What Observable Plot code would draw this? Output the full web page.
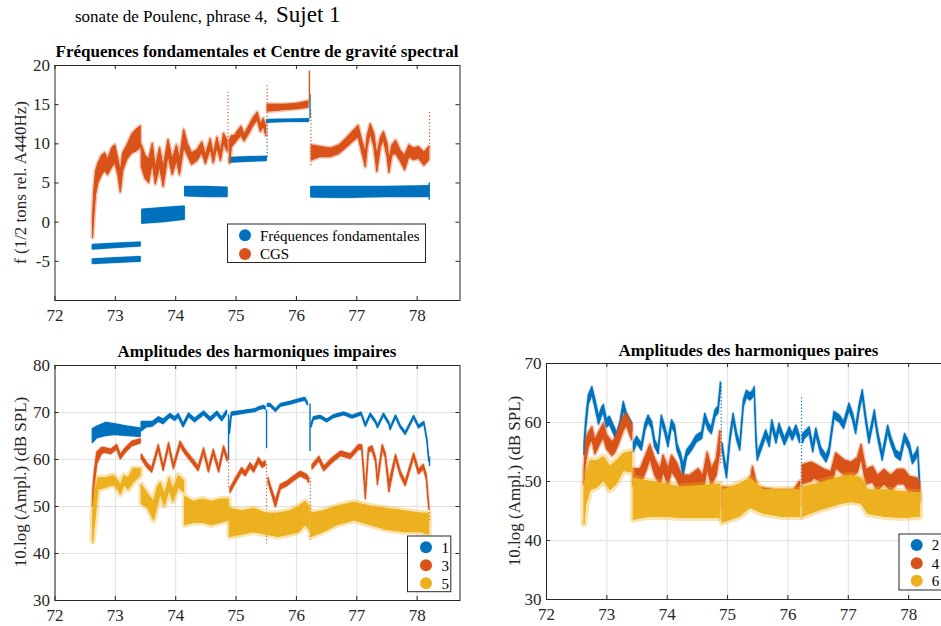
<!DOCTYPE html>
<html>
<head>
<meta charset="utf-8">
<script src="https://cdn.jsdelivr.net/npm/d3@7"></script>
<script src="https://cdn.jsdelivr.net/npm/@observablehq/plot@0.6"></script>
<style>
html,body{margin:0;padding:0;background:#fff;overflow:hidden}
#fig{position:relative;width:941px;height:626px;overflow:hidden;background:#fff}
#fig svg{position:absolute}
</style>
</head>
<body>
<div id="fig"></div>
<script>
// ---------------- data ----------------
const xTicks = [72, 73, 74, 75, 76, 77, 78];
const yTicksF = [-10, -5, 0, 5, 10, 15, 20];
const yLabelsF = [-5, 0, 5, 10, 15, 20];
const yTicksImp = [30, 40, 50, 60, 70, 80];
const yTicksPair = [30, 40, 50, 60, 70];

// Plot 1 : fundamental frequency (rows: x, low, high ; null = gap)
const f0Band = [
  [72.63,-5.35,-4.75],[73.0,-5.2,-4.6],[73.42,-5.05,-4.45], null,
  [72.63,-3.5,-2.9],[73.0,-3.3,-2.75],[73.42,-3.1,-2.6], null,
  [73.45,-0.2,1.6],[73.8,0.0,1.8],[74.15,0.3,2.0], null,
  [74.16,3.3,4.5],[74.5,3.2,4.5],[74.86,3.2,4.4], null,
  [74.9,7.6,8.2],[75.2,7.7,8.3],[75.51,7.8,8.35], null,
  [75.52,12.7,13.05],[75.9,12.8,13.1],[76.21,12.8,13.15], null,
  [76.25,3.15,4.5],[76.8,3.1,4.5],[77.5,3.2,4.5],[78.2,3.2,4.6]
];
// Plot 1 : spectral centroid (CGS)
const cgsBand = [
  [72.63,-2.0,0.5],[72.65,0.5,4.0],[72.68,3.5,6.5],[72.72,5.0,7.5],[72.78,6.0,8.5],[72.83,6.5,8.8],
  [72.88,6.0,8.0],[72.95,7.0,9.5],[73.0,7.5,9.8],[73.05,6.0,8.0],[73.09,3.8,6.5],[73.13,6.5,8.8],
  [73.2,8.0,9.8],[73.28,8.8,11.2],[73.35,9.0,11.8],[73.42,9.5,12.2], null,
  [73.44,7.0,9.8],[73.5,5.5,8.5],[73.56,5.0,8.0],[73.62,7.5,10.0],[73.67,4.8,7.0],[73.74,7.0,9.5],
  [73.8,4.5,7.0],[73.88,8.5,10.5],[73.95,6.0,8.0],[74.02,7.8,9.8],[74.07,6.0,8.0],[74.14,9.5,11.8],
  [74.2,8.5,10.0],[74.27,7.3,8.8],[74.36,7.8,9.2],[74.44,8.8,10.2],[74.5,7.4,8.6],[74.58,9.3,10.6],
  [74.63,7.5,8.6],[74.69,9.5,10.8],[74.75,7.8,9.0],[74.8,10.0,11.3],[74.86,9.0,10.4], null,
  [74.9,7.5,10.5],[74.93,9.5,11.0],[74.98,10.0,11.0],[75.03,10.5,11.6],[75.09,11.0,12.2],[75.14,10.3,11.2],
  [75.22,11.3,12.3],[75.29,12.3,13.3],[75.36,13.0,14.0],[75.41,11.5,12.5],[75.46,12.2,13.2],[75.5,11.0,12.2], null,
  [75.53,14.1,15.0],[75.8,14.3,15.0],[76.0,14.4,15.1],[76.2,14.6,15.4], null,
  [76.26,7.9,9.8],[76.4,8.3,9.6],[76.57,8.3,9.4],[76.71,8.7,9.8],[76.82,9.4,10.6],[76.93,10.2,11.5],
  [77.03,10.8,12.3],[77.09,8.9,10.4],[77.15,7.0,8.8],[77.18,9.5,11.0],[77.23,11.3,12.5],[77.29,9.6,11.3],
  [77.34,6.4,8.5],[77.4,9.6,10.8],[77.45,10.4,11.5],[77.51,8.3,10.0],[77.54,6.3,7.9],[77.59,8.5,9.8],
  [77.65,8.7,10.4],[77.73,7.7,9.1],[77.8,6.6,8.5],[77.87,8.3,9.8],[77.95,7.9,9.4],[78.03,8.1,9.6],
  [78.12,7.2,8.9],[78.2,7.9,9.6]
];
// vertical runs of points: [series, x, from, to]
const p1Solid = [["f0",76.225,13.2,16.3],["cgs",76.215,15.3,19.3],["f0",78.2,2.8,5.0]];
const p1Dotted = [["f0",75.515,8.3,12.8],["cgs",74.865,10.8,16.8],["cgs",75.515,12.5,17.4],["cgs",76.24,7.2,14.5],["cgs",78.205,9.5,14.0]];

// Plot 2 : odd harmonics (dB)
const h1Band = [
  [72.63,63.5,66.5],[72.7,64.5,67.0],[72.85,65.0,67.8],[73.0,65.2,67.5],[73.2,65.0,67.0],[73.42,64.8,66.6], null,
  [73.44,66.0,68.0],[73.52,66.8,68.0],[73.62,67.0,68.0],[73.72,68.0,69.0],[73.8,67.5,68.5],[73.91,68.9,69.7],
  [73.99,68.2,69.0],[74.05,68.9,69.7],[74.13,66.8,67.6],[74.22,69.0,69.8],[74.32,67.9,68.7],[74.47,69.4,70.2],
  [74.58,68.1,68.9],[74.69,69.4,70.2],[74.77,68.1,68.9],[74.85,69.6,70.4], null,
  [74.9,65.5,67.5],[74.93,69.3,70.0],[75.16,69.8,70.4],[75.32,70.1,70.7],[75.38,70.5,71.1],[75.46,70.8,71.4],[75.49,70.6,71.2], null,
  [75.53,71.2,71.8],[75.57,71.2,71.8],[75.66,70.1,70.7],[75.74,71.2,71.8],[75.91,71.7,72.3],[76.07,72.3,72.9],
  [76.15,72.5,73.1],[76.19,71.5,72.1], null,
  [76.25,66.8,67.6],[76.29,68.4,69.0],[76.4,68.7,69.3],[76.51,67.9,68.5],[76.62,68.8,69.4],[76.79,69.4,70.0],
  [76.93,68.7,69.3],[77.08,69.4,70.0],[77.15,66.9,67.5],[77.23,69.2,69.8],[77.32,67.6,68.2],[77.35,66.6,67.2],
  [77.45,69.2,69.8],[77.54,67.3,67.9],[77.56,66.2,66.8],[77.65,68.8,69.4],[77.73,66.6,67.2],[77.81,65.2,65.8],
  [77.95,68.7,69.3],[78.03,66.6,67.2],[78.12,67.4,68.0],[78.17,63.7,64.3],[78.2,59.5,60.1]
];
const h3Band = [
  [72.63,50.0,53.0],[72.66,54.5,57.5],[72.7,59.0,61.5],[72.78,61.2,62.5],[72.84,61.4,62.4],[72.93,61.1,62.1],
  [73.03,62.1,63.1],[73.09,60.0,61.0],[73.17,61.4,62.4],[73.28,62.8,63.8],[73.42,63.4,64.3], null,
  [73.44,60.0,61.0],[73.53,58.2,59.2],[73.61,57.2,58.2],[73.72,62.1,63.1],[73.8,57.5,58.5],[73.89,62.5,63.5],
  [73.97,57.9,58.9],[74.08,62.8,63.8],[74.16,61.1,62.1],[74.27,59.3,60.3],[74.38,57.5,58.5],[74.47,61.4,62.4],
  [74.55,57.2,58.2],[74.63,61.1,62.1],[74.72,57.2,58.2],[74.8,61.8,62.8],[74.86,59.6,60.6], null,
  [74.91,52.9,53.9],[75.0,55.0,56.0],[75.1,57.2,58.2],[75.16,56.4,57.4],[75.24,58.2,59.2],[75.3,57.2,58.2],
  [75.38,59.3,60.3],[75.44,58.2,59.2],[75.49,58.6,59.6], null,
  [75.54,55.0,56.0],[75.57,53.6,54.6],[75.66,49.8,51.2],[75.74,53.6,54.6],[75.85,54.3,55.3],[75.96,55.4,56.4],
  [76.07,56.4,57.4],[76.18,55.7,56.7],[76.21,55.0,56.0], null,
  [76.27,57.9,58.9],[76.38,59.6,60.6],[76.46,57.5,58.5],[76.6,59.3,60.3],[76.74,60.7,61.7],[76.9,60.1,61.1],
  [77.04,62.1,63.1],[77.09,62.0,63.0],[77.15,51.5,53.5],[77.2,61.4,62.4],[77.26,61.8,62.8],[77.32,59.3,60.3],
  [77.35,54.5,56.0],[77.43,62.1,63.1],[77.48,60.3,61.3],[77.54,53.0,55.0],[77.65,60.0,61.0],[77.73,56.4,57.4],
  [77.81,54.3,55.3],[77.95,60.3,61.3],[78.03,56.8,57.8],[78.11,57.9,58.9],[78.16,55.7,56.7],[78.2,49.4,50.4]
];
const h5Band = [
  [72.63,42.5,48.5],[72.67,47.0,53.0],[72.72,53.5,56.0],[72.85,54.0,56.0],[72.97,54.5,56.5],[73.05,53.5,55.5],
  [73.09,52.5,54.5],[73.15,54.5,56.5],[73.22,53.5,56.0],[73.3,55.0,58.0],[73.42,56.5,58.0], null,
  [73.44,50.5,54.5],[73.55,49.5,52.5],[73.64,47.0,51.0],[73.7,50.0,54.0],[73.75,52.5,55.0],[73.82,50.0,52.5],
  [73.9,53.5,56.0],[73.96,51.0,53.5],[74.05,54.0,56.5],[74.14,53.0,55.5], null,
  [74.16,46.0,52.0],[74.3,46.5,51.0],[74.45,46.5,51.5],[74.6,46.0,51.0],[74.75,46.5,51.5],[74.88,47.0,51.5], null,
  [74.9,43.5,49.5],[75.1,44.0,49.0],[75.3,44.5,49.5],[75.5,44.0,48.5],[75.7,43.5,48.5],[75.9,44.0,49.0],
  [76.05,44.5,50.0],[76.15,46.0,51.0],[76.22,45.0,50.0], null,
  [76.25,43.5,48.5],[76.45,44.5,49.0],[76.68,46.0,50.0],[76.96,47.0,50.8],[77.23,46.0,50.0],[77.5,45.0,49.5],
  [77.8,44.5,49.0],[78.05,44.5,48.5],[78.2,44.0,48.5]
];
const p2Solid = [["h1",74.875,60,69.5],["h1",75.505,62.3,70.5],["h1",76.225,61.7,71.8],["h1",78.205,58.5,60.5]];
const p2Dotted = [["h3",74.875,54,63],["h3",75.505,42,59],["h3",76.23,42.8,56],["h3",78.205,47,50],["h5",72.635,42,44]];

// Plot 3 : even harmonics (dB)
const h2Band = [
  [72.63,54.5,56.5],[72.66,59.0,60.8],[72.7,63.0,64.6],[72.76,64.6,66.0],[72.81,62.5,63.9],[72.87,59.6,61.0],
  [72.92,61.1,62.5],[72.95,61.6,63.0],[73.0,59.1,60.5],[73.05,59.6,61.0],[73.11,58.2,59.6],[73.17,56.8,58.2],
  [73.22,58.5,59.9],[73.28,62.0,63.5],[73.33,60.2,61.6],[73.42,58.5,59.9], null,
  [73.45,55.0,56.6],[73.5,56.4,57.6],[73.58,55.2,56.4],[73.64,58.6,59.8],[73.69,60.0,61.2],[73.75,58.9,60.1],
  [73.8,55.8,57.0],[73.86,54.6,55.8],[73.91,60.0,61.2],[73.97,58.0,59.2],[74.02,55.8,57.0],[74.08,59.2,60.4],
  [74.13,58.3,59.5],[74.17,55.2,56.4],[74.23,53.5,54.7],[74.27,50.8,52.8],[74.33,54.1,55.3],[74.41,55.2,56.4],
  [74.49,56.6,57.8],[74.58,57.2,58.4],[74.63,60.3,61.5],[74.69,58.6,59.8],[74.74,58.0,59.2],[74.8,60.9,62.1],
  [74.85,61.5,62.7],[74.89,65.5,66.8], null,
  [74.92,55.2,56.4],[74.95,52.9,54.1],[74.99,50.5,52.0],[75.05,56.9,58.1],[75.1,60.3,61.5],[75.16,56.9,58.1],
  [75.21,55.2,56.4],[75.27,62.6,63.8],[75.32,64.2,65.4],[75.38,63.7,64.9],[75.43,64.3,65.5],[75.45,64.9,66.0],
  [75.48,56.0,58.0],[75.5,53.5,54.7],[75.56,55.2,56.4],[75.64,57.5,58.7],[75.7,55.8,57.0],[75.74,59.2,60.4],
  [75.81,56.4,57.6],[75.86,58.6,59.8],[75.95,56.1,57.3],[76.03,58.0,59.2],[76.08,56.9,58.1],[76.14,58.3,59.5],
  [76.2,56.5,57.7], null,
  [76.25,56.5,58.0],[76.28,57.2,58.4],[76.36,58.0,59.2],[76.42,54.9,56.1],[76.47,57.8,59.0],[76.55,54.6,55.8],
  [76.64,53.2,54.4],[76.69,54.6,55.8],[76.77,60.6,61.8],[76.86,60.0,61.2],[76.93,58.9,60.1],[77.02,62.0,63.2],
  [77.08,60.3,61.5],[77.13,58.0,59.2],[77.19,62.0,63.2],[77.24,64.3,65.5],[77.3,59.7,60.9],[77.35,56.4,57.6],
  [77.44,60.9,62.1],[77.49,57.5,58.7],[77.57,53.5,54.7],[77.66,58.3,59.5],[77.71,56.4,57.6],[77.79,54.1,55.3],
  [77.87,53.5,54.7],[77.94,56.9,58.1],[78.02,55.2,56.4],[78.07,52.9,54.1],[78.13,53.8,55.0],[78.16,54.6,55.8],
  [78.19,48.5,50.0]
];
const h4Band = [
  [72.63,49.5,52.0],[72.66,53.5,57.0],[72.7,55.8,58.2],[72.76,57.0,59.2],[72.81,54.6,57.0],[72.89,56.3,58.7],
  [72.95,57.4,59.8],[73.0,55.5,57.9],[73.09,54.3,56.7],[73.14,54.8,57.2],[73.2,56.3,58.7],[73.28,58.6,61.0],
  [73.33,59.4,61.4],[73.42,57.0,59.5], null,
  [73.45,49.3,52.1],[73.56,49.3,52.1],[73.67,52.1,54.9],[73.72,53.8,56.2],[73.8,51.0,53.8],[73.89,49.3,52.1],
  [73.94,51.6,54.4],[74.02,49.3,52.1],[74.08,51.6,54.4],[74.16,50.4,53.2],[74.25,48.2,51.0],[74.38,48.2,51.0],
  [74.52,49.3,52.1],[74.6,48.2,51.0],[74.67,52.1,54.9],[74.74,49.3,52.1],[74.82,51.0,53.8],[74.88,55.0,58.5], null,
  [74.92,45.5,49.0],[75.1,45.3,48.8],[75.3,45.8,49.2],[75.4,47.5,51.0],[75.42,49.5,52.5],[75.5,45.5,49.0],
  [75.8,44.8,48.5],[76.1,44.8,48.5],[76.2,46.0,50.0], null,
  [76.25,49.5,52.8],[76.39,50.0,53.2],[76.44,50.5,53.0],[76.61,49.5,52.0],[76.72,48.8,51.6],[76.8,52.2,54.8],
  [76.94,51.0,53.6],[77.05,50.5,53.2],[77.16,51.5,54.0],[77.22,53.9,56.2],[77.3,49.5,52.0],[77.41,49.8,52.5],
  [77.49,48.3,51.0],[77.6,49.5,52.0],[77.71,48.3,51.0],[77.82,49.5,52.0],[77.93,49.5,52.0],[78.02,48.0,50.8],
  [78.15,47.8,50.5],[78.19,46.5,49.5]
];
const h6Band = [
  [72.63,42.8,49.0],[72.66,46.0,51.0],[72.73,48.5,53.5],[72.85,49.0,53.5],[72.95,50.1,54.1],[73.06,48.5,52.5],
  [73.17,49.6,53.5],[73.28,51.8,54.7],[73.42,51.5,55.0], null,
  [73.45,43.5,50.5],[73.7,44.0,50.0],[74.0,44.0,49.5],[74.2,43.8,49.0],[74.5,43.8,49.2],[74.88,43.8,49.5], null,
  [74.92,43.0,48.5],[75.2,44.0,49.5],[75.38,45.5,50.5],[75.6,44.5,48.5],[75.9,44.0,48.5],[76.2,44.0,48.5], null,
  [76.25,44.0,49.0],[76.5,45.0,49.6],[76.88,46.2,50.7],[77.05,46.5,51.0],[77.22,46.2,50.5],[77.33,44.5,48.5],
  [77.6,44.0,48.5],[77.9,43.8,48.2],[78.19,44.0,48.0]
];
const p3Solid = [];
const p3Dotted = [["h2",76.225,49,64.6],["h2",74.895,56,66.7],["h4",74.89,53,58.5]];

const legend1 = ["Fréquences fondamentales", "CGS"];
const legend2 = ["1", "3", "5"];
const legend3 = ["2", "4", "6"];

// ---------------- rendering ----------------
const BLUE = "#0072BD", ORANGE = "#D95319", YELLOW = "#EDB120";
const INK = "#262626";
const FONT = '"Liberation Serif", "Times New Roman", Times, serif';
const color = {f0: BLUE, cgs: ORANGE, h1: BLUE, h3: ORANGE, h5: YELLOW, h2: BLUE, h4: ORANGE, h6: YELLOW};
// width of the faint scatter halo around each noisy series (style only)
const halo = {f0: 2, cgs: 4, h1: 2, h3: 2.5, h5: 6, h2: 2.5, h4: 4, h6: 7};
const fmt = d => String(d);

function rows(band) {
  let seg = 0; const out = [];
  for (const r of band) {
    if (r === null) { seg++; continue; }
    out.push({x: r[0], lo: r[1], hi: r[2], seg});
  }
  return out;
}
function runs(list) { return list.map(([s, x, a, b]) => ({s, x, a, b})); }

function panel({width, height, mt, mb, ml, mr, ydom, yticks, ylabels, grid, bands, solid, dotted}) {
  const fw = width - ml - mr, fh = height - mt - mb;
  const marks = [];
  if (grid) {
    marks.push(Plot.gridX(xTicks, {stroke: "#e0e0e0", strokeOpacity: 1}));
    marks.push(Plot.gridY(yticks, {stroke: "#e0e0e0", strokeOpacity: 1}));
  }
  for (const [key, band] of bands) {
    const data = rows(band);
    marks.push(Plot.areaY(data, {x: "x", y1: "lo", y2: "hi", z: "seg", fill: color[key], curve: "linear",
      stroke: color[key], strokeWidth: halo[key], strokeOpacity: 0.35, strokeLinejoin: "round"}));
    marks.push(Plot.areaY(data, {x: "x", y1: "lo", y2: "hi", z: "seg", fill: color[key], curve: "linear",
      stroke: color[key], strokeWidth: 1, strokeLinejoin: "round"}));
    marks.push(Plot.ruleX(runs(solid).filter(d => d.s === key), {x: "x", y1: "a", y2: "b", stroke: color[key], strokeWidth: 1.4}));
    marks.push(Plot.ruleX(runs(dotted).filter(d => d.s === key), {x: "x", y1: "a", y2: "b", stroke: color[key], strokeWidth: 1.2, strokeDasharray: "1.2,2.2"}));
  }
  marks.push(
    Plot.axisX(xTicks, {tickSize: 0, tickPadding: 8.5, tickFormat: fmt, label: null}),
    Plot.axisY(ylabels, {tickSize: 0, tickPadding: 5, tickFormat: fmt, label: null}),
    Plot.ruleX(xTicks, {insetTop: fh - 4, stroke: INK}),
    Plot.ruleX(xTicks, {insetBottom: fh - 4, stroke: INK}),
    Plot.ruleY(yticks, {insetLeft: fw - 4, stroke: INK}),
    Plot.ruleY(yticks, {insetRight: fw - 4, stroke: INK}),
    Plot.frame({stroke: INK})
  );
  return Plot.plot({
    width, height, marginTop: mt, marginBottom: mb, marginLeft: ml, marginRight: mr,
    style: {fontFamily: FONT, fontSize: "17px", color: INK, background: "transparent", overflow: "visible"},
    x: {domain: [72, 78.71]},
    y: {domain: ydom},
    marks
  });
}

const fig = document.getElementById("fig");
function place(svg, left, top) {
  svg.style.position = "absolute"; svg.style.left = left + "px"; svg.style.top = top + "px";
  svg.style.maxWidth = "none";
  fig.appendChild(svg);
}

place(panel({width: 470, height: 290, mt: 25, mb: 30, ml: 54.5, mr: 10.5, ydom: [-10, 20],
  yticks: yTicksF, ylabels: yLabelsF, grid: false,
  bands: [["f0", f0Band], ["cgs", cgsBand]], solid: p1Solid, dotted: p1Dotted}), 0, 40);

place(panel({width: 470, height: 286, mt: 25, mb: 26, ml: 54.5, mr: 10.5, ydom: [30, 80],
  yticks: yTicksImp, ylabels: yTicksImp, grid: true,
  bands: [["h1", h1Band], ["h3", h3Band], ["h5", h5Band]], solid: p2Solid, dotted: p2Dotted}), 0, 340);

place(panel({width: 470, height: 287, mt: 25, mb: 26, ml: 56, mr: 9, ydom: [30, 70],
  yticks: yTicksPair, ylabels: yTicksPair, grid: true,
  bands: [["h2", h2Band], ["h4", h4Band], ["h6", h6Band]], solid: p3Solid, dotted: p3Dotted}), 490, 338.3);

// overlay: titles, axis labels, legends
const ov = d3.select(fig).append("svg")
  .attr("width", 941).attr("height", 626)
  .style("left", "0px").style("top", "0px")
  .style("font-family", FONT).style("pointer-events", "none");

ov.append("text").attr("x", 75).attr("y", 22).attr("font-size", 17).attr("fill", "#000")
  .text("sonate de Poulenc, phrase 4,");
ov.append("text").attr("x", 276).attr("y", 22).attr("font-size", 23).attr("fill", "#000")
  .text("Sujet 1");

const titles = [
  [257, 57.3, "Fréquences fondamentales et Centre de gravité spectral"],
  [257, 356.7, "Amplitudes des harmoniques impaires"],
  [748.5, 356, "Amplitudes des harmoniques paires"]
];
for (const [x, y, t] of titles)
  ov.append("text").attr("x", x).attr("y", y).attr("text-anchor", "middle")
    .attr("font-size", 17).attr("font-weight", "bold").attr("fill", "#000").text(t);

const ylabs = [
  [25.5, 182.5, "f (1/2 tons rel. A440Hz)"],
  [25.5, 482, "10.log (Ampl.) (dB SPL)"],
  [519.5, 481, "10.log (Ampl.) (dB SPL)"]
];
for (const [x, y, t] of ylabs)
  ov.append("text").attr("transform", `translate(${x},${y}) rotate(-90)`).attr("text-anchor", "middle")
    .attr("font-size", 17).attr("fill", INK).text(t);

function legend(box, cx, tx, ys, labels, colors) {
  ov.append("rect").attr("x", box[0]).attr("y", box[1]).attr("width", box[2]).attr("height", box[3])
    .attr("fill", "#fff").attr("stroke", INK).attr("stroke-width", 1);
  labels.forEach((lab, i) => {
    ov.append("circle").attr("cx", cx).attr("cy", ys[i]).attr("r", 6).attr("fill", colors[i]);
    ov.append("text").attr("x", tx).attr("y", ys[i] + 5.3).attr("font-size", 15).attr("fill", "#000").text(lab);
  });
}
legend([227.5, 224, 198, 38.5], 245, 260, [235.3, 254], legend1, [BLUE, ORANGE]);
legend([407.5, 536, 43.3, 55.7], 426, 441.5, [547.3, 565.3, 583.3], legend2, [BLUE, ORANGE, YELLOW]);
legend([899, 534, 60, 56], 916.7, 931.7, [545, 563.3, 580.7], legend3, [BLUE, ORANGE, YELLOW]);
</script>
</body>
</html>
